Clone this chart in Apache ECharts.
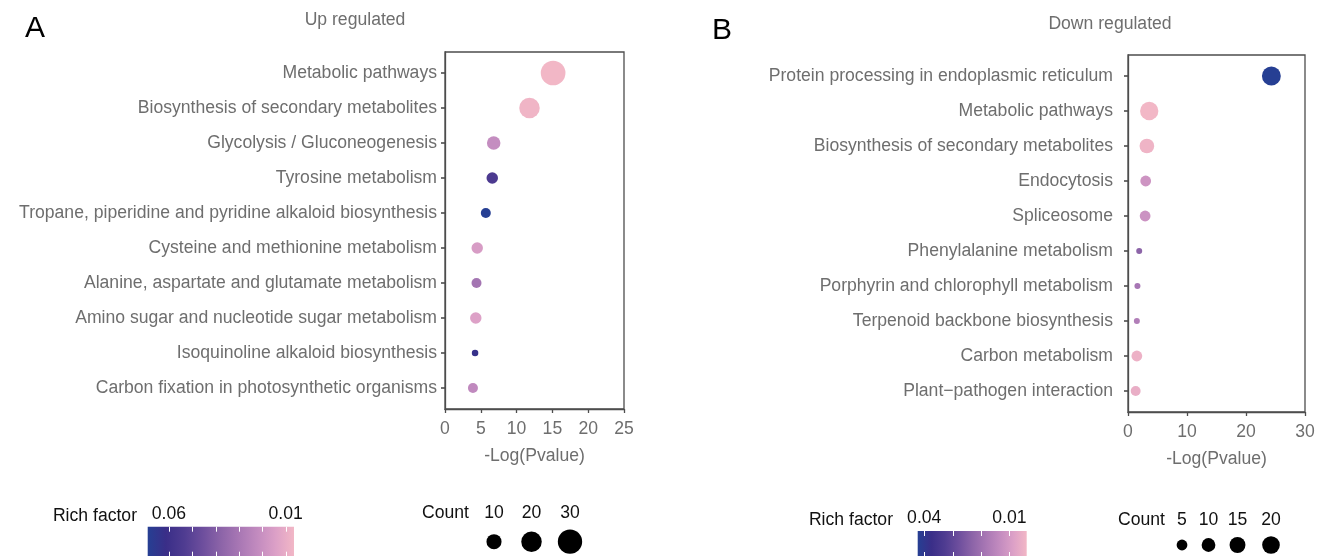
<!DOCTYPE html>
<html><head><meta charset="utf-8">
<script src="https://cdn.jsdelivr.net/npm/echarts@6/dist/echarts.min.js"></script>
<style>html,body{margin:0;padding:0;background:#fff}#c{width:1326px;height:556px}</style>
</head><body><div id="c"></div>
<script>
// ---------- data ----------
const upTerms = ["Metabolic pathways","Biosynthesis of secondary metabolites","Glycolysis / Gluconeogenesis","Tyrosine metabolism","Tropane, piperidine and pyridine alkaloid biosynthesis","Cysteine and methionine metabolism","Alanine, aspartate and glutamate metabolism","Amino sugar and nucleotide sugar metabolism","Isoquinoline alkaloid biosynthesis","Carbon fixation in photosynthetic organisms"];
const upLogP  = [15.1, 11.8, 6.8, 6.6, 5.7, 4.5, 4.4, 4.3, 4.2, 3.9];
const upCount = [31, 20, 8, 6, 5, 6, 5, 6, 4, 5];
const upRich  = [0.0064, 0.0072, 0.0215, 0.0547, 0.0691, 0.0158, 0.0309, 0.0139, 0.0628, 0.0227];
const upXTicks = [0, 25, 5];            // min, max, step
const upRichTicks = [0.06, 0.05, 0.04, 0.03, 0.02, 0.01];
const upRichLabels = [0.06, 0.01];
const upCountLegend = [10, 20, 30];

const downTerms = ["Protein processing in endoplasmic reticulum","Metabolic pathways","Biosynthesis of secondary metabolites","Endocytosis","Spliceosome","Phenylalanine metabolism","Porphyrin and chlorophyll metabolism","Terpenoid backbone biosynthesis","Carbon metabolism","Plant\u2212pathogen interaction"];
const downLogP  = [24.3, 3.6, 3.2, 3.0, 2.9, 1.9, 1.6, 1.5, 1.5, 1.3];
const downCount = [24, 22, 12, 5, 5, 2, 2, 2, 5, 4];
const downRich  = [0.0423, 0.0039, 0.0046, 0.0115, 0.0118, 0.0231, 0.0185, 0.0166, 0.0051, 0.0058];
const downXTicks = [0, 30, 10];
const downRichTicks = [0.04, 0.03, 0.02, 0.01];
const downRichLabels = [0.04, 0.01];
const downCountLegend = [5, 10, 15, 20];

// colour ramp, low rich factor -> high rich factor
const ramp = ['#F2B7C6','#DCA0C7','#C28BBF','#A877B4','#8C64A8','#6D4E9D','#4F3C91','#3A2E88','#263F93'];

function sizeUp(c){ return 6.5 + 3.5*Math.sqrt(Math.max(c-4,0)); }
function sizeDown(c){ return 6 + 2.75*Math.sqrt(Math.max(c-2,0)); }

const FONT = '"Liberation Sans", Arial, Helvetica, sans-serif';
const GRAY = '#6e6e6e';
const AX = '#4d4d4d';
const FS = 17.6;

const chart = echarts.init(document.getElementById('c'), null, {renderer:'canvas'});

function mkPanel(gi, terms, logp, count, rich, xt, grid, labelMargin){
  const n = terms.length;
  const idx = terms.map((t,i)=>i);
  return {
    grid: Object.assign({show:true, borderColor:AX, borderWidth:1.3, backgroundColor:'#fff'}, grid),
    xAxis: {type:'value', gridIndex:gi, min:xt[0], max:xt[1], interval:xt[2],
      axisLine:{show:true, onZero:false, lineStyle:{color:AX, width:1.3}},
      axisTick:{show:true, length:4, lineStyle:{color:AX, width:1.3}},
      axisLabel:{color:GRAY, fontSize:FS, fontFamily:FONT, margin:11},
      splitLine:{show:false},
      name:'-Log(Pvalue)', nameLocation:'middle', nameGap:38,
      nameTextStyle:{color:GRAY, fontSize:FS, fontFamily:FONT}},
    yAxis: {type:'value', gridIndex:gi, inverse:true, min:-0.6, max:n-1+0.6,
      axisLine:{show:true, onZero:false, lineStyle:{color:AX, width:1.3}},
      axisTick:{show:true, length:4, customValues:idx, lineStyle:{color:AX, width:1.6}},
      axisLabel:{customValues:idx, formatter:v=>terms[Math.round(v)], color:GRAY, fontSize:FS, fontFamily:FONT, margin:labelMargin},
      splitLine:{show:false}},
    data: terms.map((t,i)=>[logp[i], i, count[i], rich[i]])
  };
}

const pA = mkPanel(0, upTerms, upLogP, upCount, upRich, upXTicks, {left:445, top:52, width:179, height:357}, 8);
const pB = mkPanel(1, downTerms, downLogP, downCount, downRich, downXTicks, {left:1128, top:55, width:177, height:357}, 15);

const upMin = Math.min(...upRich), upMax = Math.max(...upRich);
const dnMin = Math.min(...downRich), dnMax = Math.max(...downRich);

function gradFill(){
  const rev = ramp.slice().reverse();
  return {type:'linear', x:0, y:0, x2:1, y2:0,
    colorStops: rev.map((c,i)=>({offset:i/(rev.length-1), color:c}))};
}

function colorbar(x, y, w, h, vmin, vmax, ticks, labels, titleX){
  const els = [];
  els.push({type:'rect', shape:{x:x, y:y, width:w, height:h}, style:{fill:gradFill()}});
  const pos = v => x + (vmax - v)/(vmax - vmin)*w;
  ticks.forEach(v=>{
    const px = Math.round(pos(v))+0.5;
    els.push({type:'line', shape:{x1:px, y1:y, x2:px, y2:y+5}, style:{stroke:'#fff', lineWidth:1}});
    els.push({type:'line', shape:{x1:px, y1:y+h-5, x2:px, y2:y+h}, style:{stroke:'#fff', lineWidth:1}});
  });
  labels.forEach(v=>{
    els.push({type:'text', x:pos(v), y:y-13, style:{text:v.toFixed(2), fill:'#111', font:`${FS}px ${FONT}`, align:'center', verticalAlign:'middle'}});
  });
  els.push({type:'text', x:titleX, y:y-11, style:{text:'Rich factor', fill:'#111', font:`${FS}px ${FONT}`, align:'right', verticalAlign:'middle'}});
  return els;
}

function countLegend(titleRight, labelY, circY, xs, vals, sizeFn){
  const els = [];
  els.push({type:'text', x:titleRight, y:labelY, style:{text:'Count', fill:'#111', font:`${FS}px ${FONT}`, align:'right', verticalAlign:'middle'}});
  vals.forEach((v,i)=>{
    els.push({type:'text', x:xs[i], y:labelY, style:{text:String(v), fill:'#111', font:`${FS}px ${FONT}`, align:'center', verticalAlign:'middle'}});
    els.push({type:'circle', shape:{cx:xs[i], cy:circY, r:sizeFn(v)/2}, style:{fill:'#000'}});
  });
  return els;
}

const graphics = [].concat(
  [{type:'text', x:25, y:29, style:{text:'A', fill:'#000', font:`30px ${FONT}`, align:'left', verticalAlign:'middle'}},
   {type:'text', x:712, y:31, style:{text:'B', fill:'#000', font:`30px ${FONT}`, align:'left', verticalAlign:'middle'}},
   {type:'text', x:355, y:20, style:{text:'Up regulated', fill:GRAY, font:`${FS}px ${FONT}`, align:'center', verticalAlign:'middle'}},
   {type:'text', x:1110, y:24, style:{text:'Down regulated', fill:GRAY, font:`${FS}px ${FONT}`, align:'center', verticalAlign:'middle'}}],
  colorbar(147.7, 526.7, 146.3, 30, upMin, upMax, upRichTicks, upRichLabels, 137),
  colorbar(917.7, 531, 109, 26, dnMin, dnMax, downRichTicks, downRichLabels, 893),
  countLegend(469, 513, 541.7, [494, 531.5, 570], upCountLegend, sizeUp),
  countLegend(1165, 520, 545, [1182, 1208.5, 1237.5, 1271], downCountLegend, sizeDown)
);

chart.setOption({
  animation:false,
  backgroundColor:'#fff',
  grid:[pA.grid, pB.grid],
  xAxis:[pA.xAxis, pB.xAxis],
  yAxis:[pA.yAxis, pB.yAxis],
  visualMap:[
    {type:'continuous', show:false, seriesIndex:0, dimension:3, min:upMin, max:upMax, inRange:{color:ramp}},
    {type:'continuous', show:false, seriesIndex:1, dimension:3, min:dnMin, max:dnMax, inRange:{color:ramp}}
  ],
  series:[
    {type:'scatter', xAxisIndex:0, yAxisIndex:0, data:pA.data, symbol:'circle',
     symbolSize:v=>sizeUp(v[2]), itemStyle:{opacity:1}, emphasis:{disabled:true}},
    {type:'scatter', xAxisIndex:1, yAxisIndex:1, data:pB.data, symbol:'circle',
     symbolSize:v=>sizeDown(v[2]), itemStyle:{opacity:1}, emphasis:{disabled:true}}
  ],
  graphic:graphics
});
</script>
</body></html>
